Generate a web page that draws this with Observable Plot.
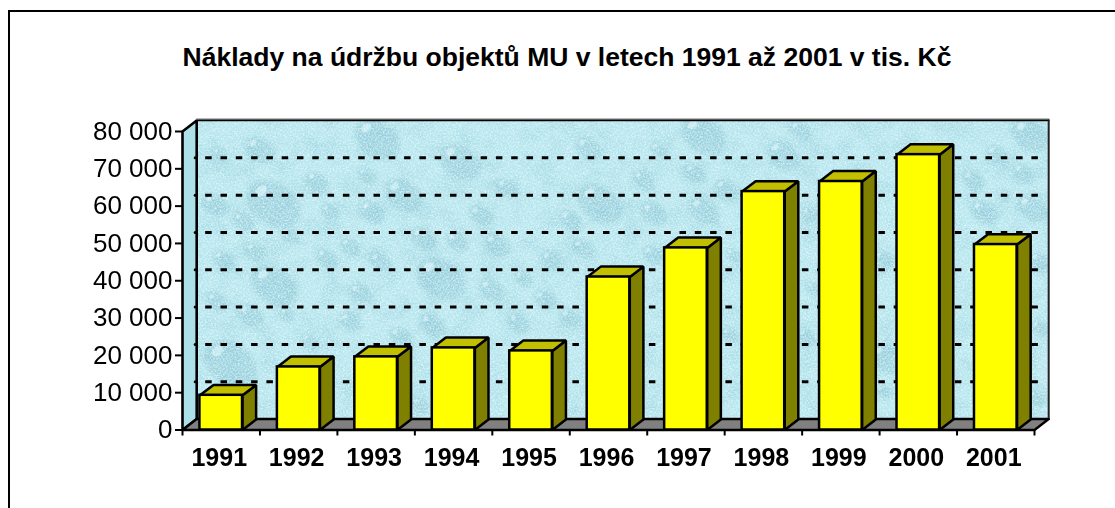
<!DOCTYPE html>
<html><head><meta charset="utf-8">
<style>
html,body{margin:0;padding:0;background:#fff;overflow:hidden}
#page{position:relative;width:1115px;height:508px}
#frame{position:absolute;left:8px;top:10px;right:0;bottom:0;border-left:2px solid #000;border-top:2px solid #000;pointer-events:none}
svg{display:block}
</style>
<script src="https://cdn.jsdelivr.net/npm/d3@7"></script>
<script src="https://cdn.jsdelivr.net/npm/@observablehq/plot@0.6"></script>
</head><body><div id="page"><div id="frame"></div></div>
<script>
const titleText = "Náklady na údržbu objektů MU v letech 1991 až 2001 v tis. Kč";
const years  = [1991,1992,1993,1994,1995,1996,1997,1998,1999,2000,2001];
const values = [9300,16900,19600,22000,21200,41000,48800,63900,66600,73800,49700];
const yTicks = [0,10000,20000,30000,40000,50000,60000,70000,80000];
const gridValues = [10000,20000,30000,40000,50000,60000,70000];

// texture of the back wall: droplets [zoomed x, zoomed y, size]
const dropsLeft = [[210,105,40],[560,70,60],[810,140,55],[380,200,30],[530,180,25],[640,240,50],[250,265,70],[420,290,25],[545,290,35],[160,320,30],[950,220,30],[1195,100,35],[1230,265,60],[870,300,30],[1140,315,30],[75,270,35],[90,120,25],[195,410,30],[410,430,30],[480,395,28],[100,435,30],[570,440,30],[250,510,60],[510,535,30],[750,490,65],[905,525,35],[920,390,35],[1180,400,30],[1085,435,30],[1065,555,30],[80,560,30],[180,600,35],[480,620,30],[725,630,35],[985,625,30],[630,665,30],[1140,610,30],[120,745,70],[290,600,20],[360,680,25],[300,360,25],[700,370,35],[800,380,30],[1000,490,25],[690,870,25]];
const dropsRight = [[250,60,60],[490,120,45],[540,45,30],[70,195,30],[225,175,30],[320,225,35],[250,285,40],[100,295,35],[1060,195,30],[1210,175,30],[1090,290,35],[1235,280,40],[1230,60,50],[1130,120,30],[120,105,25],[330,660,25],[800,730,45],[560,665,25],[790,430,25],[1260,440,30],[1260,640,25],[790,830,20],[340,420,20],[570,300,25],[580,520,20],[1150,240,20],[1250,850,25],[100,420,30]];

const xMin = 1990.5, xMax = 2001.5, yMax = 80000;
const pxPerYear = 852.3/11, pxPerValue = 298.5/80000;
const DX = 14.2/pxPerYear, DY = 11/pxPerValue;      // depth of the 3D box in data units
const BDX = 13.6/pxPerYear, BDY = 10.4/pxPerValue;  // depth of one bar
const halfBar = 0.275;

const toDrop = (ox) => ([zx,zy,s]) => ({
  x: xMin + (ox + zx/3 - 182)/pxPerYear,
  y: (429.5 - (115 + zy/3))/pxPerValue,
  r: s/3
});
const drops = [...dropsLeft.map(toDrop(190)), ...dropsRight.map(toDrop(620))];
// a small light glint at the upper left of every droplet
const glints = drops.map(d=>({x:d.x-d.r*0.55/pxPerYear,y:d.y+d.r*0.55/pxPerValue,r:Math.max(1,d.r*0.22)}));
const ellipse = {draw(c,size){
  const r=Math.sqrt(size/Math.PI), a=r*1.25, b=r*0.88, k=0.5523;
  c.moveTo(a,0);
  c.bezierCurveTo(a,b*k,a*k,b,0,b);
  c.bezierCurveTo(-a*k,b,-a,b*k,-a,0);
  c.bezierCurveTo(-a,-b*k,-a*k,-b,0,-b);
  c.bezierCurveTo(a*k,-b,a,-b*k,a,0);
  c.closePath();
}};

const withAttr = (attrs) => (i,s,v,d,c,n) => { const g=n(i,s,v,d,c); for(const k in attrs) g.setAttribute(k,attrs[k]); return g; };

const poly = (id,pts,fill) => pts.map(([x,y])=>({id,x,y,fill}));
const leftWall = poly("l",[[xMin,0],[xMin+DX,DY],[xMin+DX,yMax+DY],[xMin,yMax]],"#aee0ea");
const floor = poly("f",[[xMin,0],[xMin+DX,DY],[xMax+DX,DY],[xMax,0]],"#808080");
const wallRect = [{x1:xMin+DX,x2:xMax+DX,y1:DY,y2:yMax+DY}];

const sides = years.flatMap((yr,i)=>{
  const l=yr-halfBar, r=yr+halfBar, v=values[i];
  return [
    ...poly("s"+yr,[[r,0],[r+BDX,BDY],[r+BDX,v+BDY],[r,v]],"#808000"),
    ...poly("t"+yr,[[l,v],[l+BDX,v+BDY],[r+BDX,v+BDY],[r,v]],"#c0c000")
  ];
});
const bars = years.map((yr,i)=>({x1:yr-halfBar,x2:yr+halfBar,y1:0,y2:values[i]}));
const closed = {x:"x",y:"y",z:"id",fill:"fill",curve:"linear-closed"};

const plot = Plot.plot({
  width:1115,height:508,
  marginLeft:182,marginRight:81,marginTop:131,marginBottom:78.5,
  style:{fontFamily:"'Liberation Sans',Arial,sans-serif",background:"#fff",color:"#000"},
  x:{domain:[xMin,xMax]},
  y:{domain:[0,yMax]},
  r:{type:"identity"},
  color:{type:"identity"},
  marks:[
    // wall and its texture
    Plot.rect(wallRect,{x1:"x1",x2:"x2",y1:"y1",y2:"y2",fill:"#b7e6ee"}),
    Plot.rect(wallRect,{x1:"x1",x2:"x2",y1:"y1",y2:"y2",fill:"#000",render:withAttr({filter:"url(#blotch)"})}),
    Plot.dot(drops,{x:"x",y:"y",r:"r",symbol:ellipse,rotate:35,fill:"#7fbccd",fillOpacity:0.42,stroke:"none",render:withAttr({filter:"url(#soft)","clip-path":"url(#wallclip)"})}),
    Plot.dot(glints,{x:"x",y:"y",r:"r",symbol:ellipse,rotate:-40,fill:"#e6fbff",fillOpacity:0.55,stroke:"none",render:withAttr({filter:"url(#softer)","clip-path":"url(#wallclip)"})}),
    Plot.rect(wallRect,{x1:"x1",x2:"x2",y1:"y1",y2:"y2",fill:"#000",render:withAttr({filter:"url(#speckle)"})}),
    // left wall and floor
    Plot.line(leftWall,{...closed,stroke:"#000",strokeWidth:2.6}),
    Plot.line(floor,{...closed,stroke:"#000",strokeWidth:2.4}),
    Plot.line([{x:xMin+DX,y:yMax+DY},{x:xMax+DX,y:yMax+DY}],{x:"x",y:"y",stroke:"#777",strokeWidth:2,dy:-1}),
    Plot.line([{x:xMin+DX,y:yMax+DY},{x:xMax+DX,y:yMax+DY}],{x:"x",y:"y",stroke:"#000",strokeWidth:1.5}),
    Plot.line([{x:xMax+DX,y:yMax+DY},{x:xMax+DX,y:DY}],{x:"x",y:"y",stroke:"#222",strokeWidth:2}),
    Plot.line([{x:xMin+DX,y:DY},{x:xMax+DX,y:DY}],{x:"x",y:"y",stroke:"#000",strokeWidth:2}),
    // grid on the back wall
    Plot.ruleY(gridValues,{y:d=>d+DY,x1:xMin+DX+9/pxPerYear,x2:xMax+DX-8/pxPerYear,stroke:"#000",strokeWidth:3,strokeDasharray:"6.5 8.8"}),
    Plot.dot(gridValues,{x:()=>xMin+DX-1.5/pxPerYear,y:d=>d+DY,r:1.5,fill:"#000"}),
    // bars
    Plot.line(sides,{...closed,stroke:"#000",strokeWidth:2.5,strokeLinejoin:"miter"}),
    Plot.rect(bars,{x1:"x1",x2:"x2",y1:"y1",y2:"y2",fill:"#ffff00",stroke:"#000",strokeWidth:2.5}),
    // axes
    Plot.axisY({ticks:yTicks,anchor:"left",tickSize:7,tickPadding:3,fontSize:26,strokeWidth:2,label:null,
      tickFormat:d=>d3.format(",")(d).replace(/,/g," ")}),
    Plot.axisX({ticks:d3.range(12).map(i=>xMin+i),anchor:"bottom",tickSize:6,strokeWidth:2,tickFormat:()=>"",label:null}),
    Plot.axisX({ticks:years,anchor:"bottom",tickSize:0,tickPadding:18,dx:-2,fontSize:25,fontWeight:"bold",label:null,tickFormat:d=>String(d)}),
    Plot.text([titleText],{frameAnchor:"top",dx:-41.5,dy:-74,lineAnchor:"middle",fontSize:26.5,fontWeight:"bold",fill:"#000"})
  ]
});

const svg = d3.select(plot);
const X = plot.scale("x").apply, Y = plot.scale("y").apply;
svg.insert("defs",":first-child").html(`
<filter id="soft" x="-5%" y="-5%" width="110%" height="110%"><feGaussianBlur stdDeviation="2"/></filter>
<filter id="softer" x="-5%" y="-5%" width="110%" height="110%"><feGaussianBlur stdDeviation="0.7"/></filter>
<filter id="blotch" x="0" y="0" width="1" height="1" color-interpolation-filters="sRGB">
  <feTurbulence type="fractalNoise" baseFrequency="0.05" numOctaves="3" seed="11"/>
  <feColorMatrix type="matrix" values="0 0 0 0 .6  0 0 0 0 .82  0 0 0 0 .87  1.2 0 0 0 -.5"/>
  <feComposite in2="SourceAlpha" operator="in"/>
</filter>
<filter id="speckle" x="0" y="0" width="1" height="1" color-interpolation-filters="sRGB">
  <feTurbulence type="fractalNoise" baseFrequency="0.6" numOctaves="2" seed="7"/>
  <feColorMatrix type="matrix" values="0 0 0 0 .93  0 0 0 0 .99  0 0 0 0 1  1.6 0 0 0 -.6"/>
  <feComposite in2="SourceAlpha" operator="in"/>
</filter>
<clipPath id="wallclip"><rect x="${X(xMin+DX)}" y="${Y(yMax+DY)}" width="${X(xMax+DX)-X(xMin+DX)}" height="${Y(DY)-Y(yMax+DY)}"/></clipPath>`);
document.getElementById("page").prepend(plot);
</script></body></html>
